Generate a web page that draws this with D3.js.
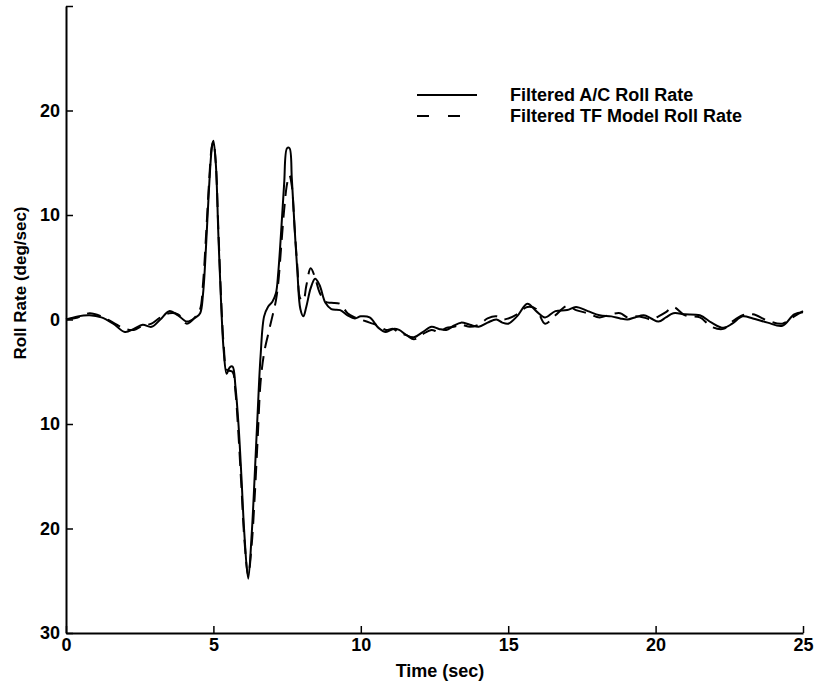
<!DOCTYPE html>
<html>
<head>
<meta charset="utf-8">
<script src="https://cdn.jsdelivr.net/npm/d3@7"></script>
<style>
  body { margin: 0; background: #fff; }
  text { font-family: "Liberation Sans", Arial, sans-serif; font-weight: bold; fill: #000; }
</style>
</head>
<body>
<svg width="814" height="682"></svg>
<script>
// time samples (sec) shared by both traces
var timeSec = [0, 0.4, 0.8, 1.2, 1.6, 2.0, 2.3, 2.6, 2.9, 3.2, 3.5, 3.8, 4.1, 4.4, 4.55, 4.65, 4.75, 4.85, 4.95, 5.0,
  5.08, 5.17, 5.27, 5.35, 5.45, 5.55, 5.65, 5.75, 5.85, 5.95, 6.05, 6.18, 6.3, 6.4, 6.5, 6.6, 6.72, 6.85, 7.0, 7.12,
  7.2, 7.3, 7.4, 7.5, 7.58, 7.66, 7.75, 7.85, 7.95, 8.05, 8.15, 8.3, 8.45, 8.6, 8.8, 9.0, 9.3, 9.55, 9.8, 10.0,
  10.3, 10.6, 10.85, 11.1, 11.3, 11.55, 11.8, 12.1, 12.4, 12.65, 12.9, 13.15, 13.4, 13.7, 14.0, 14.3, 14.6, 14.8, 15.0, 15.3,
  15.65, 15.95, 16.25, 16.6, 17.0, 17.3, 17.7, 18.1, 18.5, 18.8, 19.05, 19.3, 19.6, 19.85, 20.1, 20.35, 20.6, 21.0, 21.5, 21.9,
  22.3, 22.6, 22.95, 23.3, 23.8, 24.3, 24.7, 25.0];

// Filtered A/C roll rate (deg/sec)
var acRollRate = [0, 0.3, 0.4, 0.2, -0.4, -1.2, -0.9, -0.5, -0.7, 0.0, 0.8, 0.4, -0.2, 0.2, 0.6, 2.5, 7, 12.5, 16.5, 17.1,
  15, 8, 1, -3, -5.2, -4.6, -4.5, -6.5, -10, -15, -20.5, -24.8, -20.5, -15, -9, -3.5, 0.3, 1.2, 1.7, 2.5,
  4.5, 8.5, 13, 16.4, 16.4, 13.5, 9, 4.5, 1.0, 0.3, 1.2, 3.0, 3.9, 3.3, 1.6, 1.0, 0.9, 0.4, 0.1, 0.3,
  0.2, -0.8, -1.2, -0.9, -1.0, -1.5, -1.7, -1.2, -0.7, -0.9, -1.0, -0.6, -0.3, -0.5, -0.7, -0.3, 0.0, -0.3, -0.4, 0.3,
  1.5, 0.8, 0.2, 0.8, 0.9, 1.2, 0.8, 0.4, 0.3, 0.1, 0.0, 0.2, 0.4, 0.1, -0.2, 0.2, 0.6, 0.5, 0.4, -0.3,
  -0.8, -0.4, 0.3, 0.1, -0.3, -0.6, 0.5, 0.7];

// Filtered TF model roll rate (deg/sec)
var tfRollRate = [0, 0.2, 0.6, 0.3, -0.3, -0.9, -1.0, -0.6, -0.4, 0.2, 0.6, 0.5, -0.4, 0.3, 1.0, 3.5, 8, 13, 16.6, 17.0,
  15, 8.5, 1.5, -2.5, -4.8, -4.9, -5.0, -7, -11, -16, -21, -24.5, -21.5, -17, -11.5, -6, -3.2, -1.5, 0.3, 1.8,
  3.5, 7, 10.5, 13, 13.8, 12.8, 9, 5, 2, 1.8, 3.2, 4.9, 4.0, 2.6, 1.7, 1.6, 1.5, 0.6, 0.2, 0.0,
  -0.3, -0.6, -1.0, -0.9, -1.3, -1.5, -1.9, -1.4, -1.0, -1.2, -0.8, -0.7, -0.5, -0.7, -0.5, 0.1, 0.3, 0.0, 0.1, 0.5,
  1.2, 1.0, -0.4, 0.4, 1.3, 0.9, 0.6, 0.2, 0.5, 0.6, 0.2, 0.3, 0.2, 0.0, 0.3, 0.7, 1.2, 0.4, 0.2, -0.7,
  -0.9, -0.2, 0.4, 0.5, -0.1, -0.4, 0.3, 0.8];

var xTicks = [0, 5, 10, 15, 20, 25];
var yTicks = [30, 20, 10, 0, -10, -20, -30];
var legendLabels = ["Filtered A/C Roll Rate", "Filtered TF Model Roll Rate"];

var svg = d3.select('svg');
var x = d3.scaleLinear().domain([0, 25]).range([66, 803]);
var y = d3.scaleLinear().domain([-30, 30]).range([633, 6]);

// axes, ticks pointing into the plot
var xAxis = svg.append('g')
  .attr('transform', 'translate(0,' + y(-30) + ')')
  .call(d3.axisBottom(x).tickValues(xTicks).tickSizeInner(-7).tickSizeOuter(0).tickPadding(5));
var yAxis = svg.append('g')
  .attr('transform', 'translate(' + x(0) + ',0)')
  .call(d3.axisLeft(y).tickValues(yTicks).tickSizeInner(-7).tickSizeOuter(0).tickPadding(6)
    .tickFormat(function(d) { return d === 30 ? '' : Math.abs(d); }));

[xAxis, yAxis].forEach(function(a) {
  a.select('.domain').attr('stroke', '#000').attr('stroke-width', 2);
  a.selectAll('.tick line').attr('stroke', '#000').attr('stroke-width', 1.5);
  a.selectAll('.tick text').attr('font-size', '18px').attr('font-family', '"Liberation Sans", Arial, sans-serif')
    .attr('font-weight', 'bold').attr('fill', '#000');
});

svg.append('text')
  .attr('x', 440).attr('y', 677)
  .attr('text-anchor', 'middle')
  .attr('font-size', '18px')
  .text('Time (sec)');

svg.append('text')
  .attr('transform', 'translate(26,283) rotate(-90)')
  .attr('text-anchor', 'middle')
  .attr('font-size', '17px')
  .text('Roll Rate (deg/sec)');

var line = d3.line().curve(d3.curveCatmullRom.alpha(0.5));

svg.append('path')
  .datum(timeSec.map(function(t, i) { return [x(t), y(acRollRate[i])]; }))
  .attr('fill', 'none').attr('stroke', '#000').attr('stroke-width', 2)
  .attr('d', line);

svg.append('path')
  .datum(timeSec.map(function(t, i) { return [x(t), y(tfRollRate[i])]; }))
  .attr('fill', 'none').attr('stroke', '#000').attr('stroke-width', 2)
  .attr('stroke-dasharray', '14,8')
  .attr('d', line);

// legend
var legend = svg.append('g');
legend.append('line').attr('x1', 417).attr('x2', 477).attr('y1', 95).attr('y2', 95)
  .attr('stroke', '#000').attr('stroke-width', 2);
legend.append('line').attr('x1', 417).attr('x2', 462).attr('y1', 116).attr('y2', 116)
  .attr('stroke', '#000').attr('stroke-width', 2).attr('stroke-dasharray', '12,19');
legend.selectAll('text.lg').data(legendLabels).enter().append('text')
  .attr('class', 'lg')
  .attr('x', 510)
  .attr('y', function(d, i) { return 101 + i * 21; })
  .attr('font-size', '18px')
  .text(function(d) { return d; });
</script>
</body>
</html>
